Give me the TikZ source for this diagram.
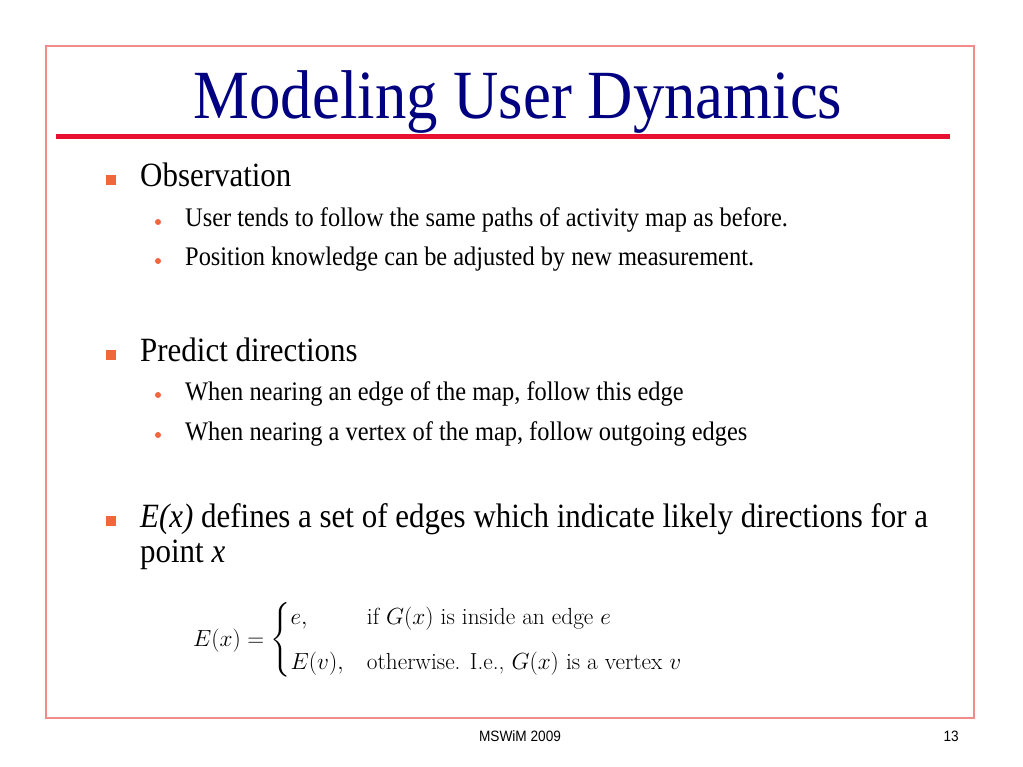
\documentclass[tikz,border=0pt]{standalone}
\usepackage{fix-cm}
\usepackage{amsmath}
\usepackage[no-math]{fontspec}
\setmainfont{Liberation Serif}[FakeStretch=0.91]
\setsansfont{Liberation Sans}[FakeStretch=0.91]

\definecolor{titleblue}{RGB}{0,0,128}
\definecolor{rulered}{RGB}{232,16,48}
\definecolor{framered}{RGB}{242,140,140}
\definecolor{bulletorange}{RGB}{242,102,60}
\newcommand{\cmtext}[1]{\text{\fontfamily{lmr}\selectfont #1}}

\begin{document}
\begin{tikzpicture}[%
    x=1pt, y=-1pt,
    slideframe/.style={
      draw=framered,
      line width=1.2pt
    },
    titlerule/.style={
      draw=rulered,
      line width=5pt
    },
    titletext/.style={
      anchor=base,
      inner sep=0pt,
      text=titleblue,
      font=\fontsize{69}{80}\selectfont
    },
    lvlone/.style={
      anchor=base west,
      inner sep=0pt,
      font=\fontsize{34}{40}\selectfont
    },
    lvltwo/.style={
      anchor=base west,
      inner sep=0pt,
      font=\fontsize{26.8}{31}\selectfont
    },
    sqbullet/.style={
      rectangle,
      fill=bulletorange,
      inner sep=0pt,
      minimum size=10pt
    },
    dotbullet/.style={
      circle,
      fill=bulletorange,
      inner sep=0pt,
      minimum size=6pt
    },
    formula/.style={
      anchor=base west,
      inner sep=0pt,
      font=\fontsize{23.3}{28}\selectfont
    },
    footer/.style={
      anchor=base,
      inner sep=0pt,
      font=\sffamily\fontsize{15}{18}\selectfont
    }
  ]
    \useasboundingbox[fill=white] (0,0) rectangle (1023,767);
    \draw[slideframe] (46,46) rectangle (974,718);
    \draw[titlerule] (56,137) -- (950,137);
    \draw (518,119) node[titletext] (T) {Modeling User Dynamics};

    % observation
    \draw (111,180) node[sqbullet] (b1) {};
    \draw (140,187) node[lvlone] (obs) {Observation};
    \draw (158,222) node[dotbullet] (b11) {};
    \draw (185,227) node[lvltwo] (obs1) {User tends to follow the same paths of activity map as before.};
    \draw (158,261) node[dotbullet] (b12) {};
    \draw (185,266) node[lvltwo] (obs2) {Position knowledge can be adjusted by new measurement.};

    % prediction
    \draw (111,355) node[sqbullet] (b2) {};
    \draw (140,361) node[lvlone] (pred) {Predict directions};
    \draw (158,395) node[dotbullet] (b21) {};
    \draw (185,400) node[lvltwo] (pred1) {When nearing an edge of the map, follow this edge};
    \draw (158,435) node[dotbullet] (b22) {};
    \draw (185,440) node[lvltwo] (pred2) {When nearing a vertex of the map, follow outgoing edges};

    % edge set
    \draw (111,521) node[sqbullet] (b3) {};
    \draw (140,527) node[lvlone] (ex) {\textit{E(x)} defines a set of edges which indicate likely directions for a};
    \draw (140,562) node[lvlone] (ex2) {point \textit{x}};
    \draw (193,646) node[formula] (F) {$E(x) = \begin{cases}
        e, & \cmtext{if $G(x)$ is inside an edge $e$}\\[11pt]
        E(v), & \cmtext{otherwise. I.e., $G(x)$ is a vertex $v$}
      \end{cases}$};

    \draw (520,741) node[footer] (conf) {MSWiM 2009};
    \draw (959,741) node[footer, anchor=base east] (num) {13};
  \end{tikzpicture}
\end{document}
